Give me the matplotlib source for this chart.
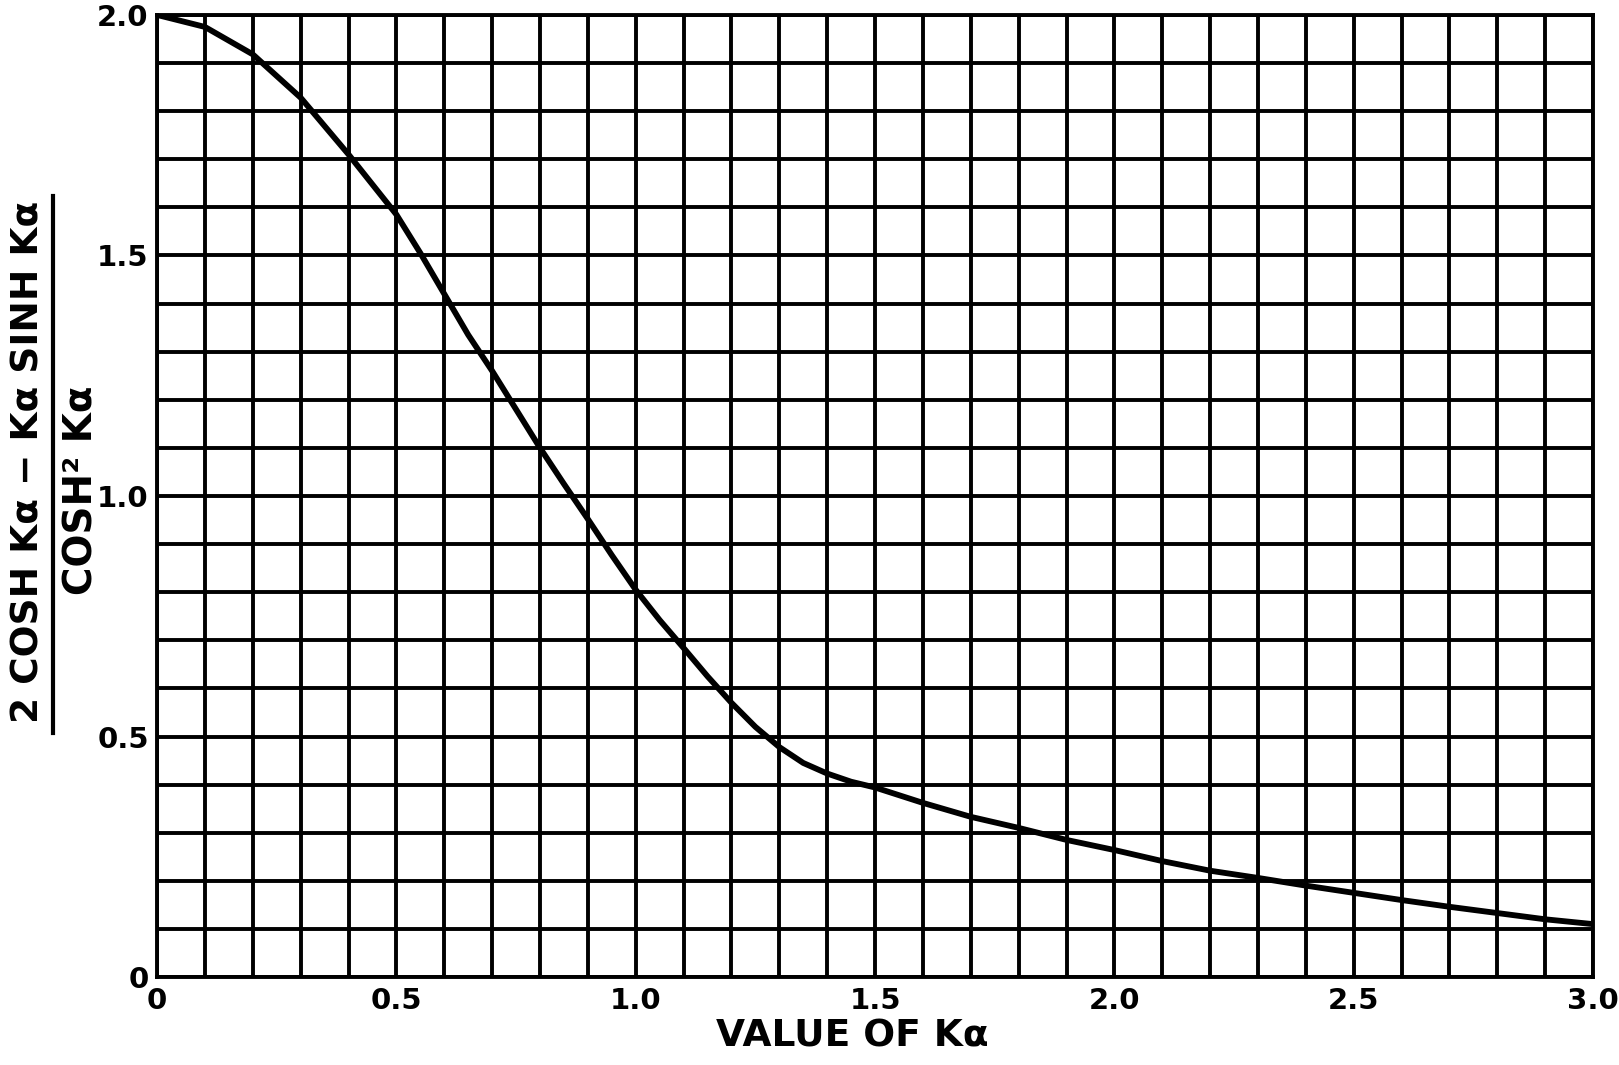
import numpy as np
import matplotlib
matplotlib.use('Agg')
import matplotlib.pyplot as plt
from matplotlib.lines import Line2D

# values
k_alpha = [0, 0.1, 0.2, 0.3, 0.4, 0.5, 0.55, 0.6, 0.65, 0.7, 0.75, 0.8, 0.85,
           0.9, 0.95, 1.0, 1.05, 1.1, 1.15, 1.2, 1.25, 1.3, 1.35, 1.4, 1.45,
           1.5, 1.6, 1.7, 1.8, 1.9, 2.0, 2.1, 2.2, 2.3, 2.4, 2.5, 2.6, 2.7,
           2.8, 2.9, 3.0]
ratio = [2.0, 1.975, 1.918, 1.828, 1.71, 1.585, 1.505, 1.42, 1.335, 1.26,
         1.18, 1.10, 1.025, 0.952, 0.877, 0.805, 0.742, 0.684, 0.625, 0.57,
         0.52, 0.478, 0.445, 0.423, 0.406, 0.394, 0.362, 0.333, 0.31, 0.285,
         0.264, 0.241, 0.221, 0.206, 0.19, 0.175, 0.16, 0.146, 0.133, 0.12,
         0.11]

x_ticks = [0, 0.5, 1.0, 1.5, 2.0, 2.5, 3.0]
x_labels = ['0', '0.5', '1.0', '1.5', '2.0', '2.5', '3.0']
y_ticks = [0, 0.5, 1.0, 1.5, 2.0]
y_labels = ['0', '0.5', '1.0', '1.5', '2.0']

plt.rcParams['font.family'] = 'DejaVu Sans'
plt.rcParams['font.weight'] = 'bold'

fig = plt.figure(figsize=(16.19, 10.65), dpi=100)
ax = fig.add_axes([0.097, 0.0826, 0.887, 0.9034])

ax.plot(k_alpha, ratio, color='black', lw=4.2, solid_capstyle='round',
        solid_joinstyle='round', zorder=3)

ax.set_xlim(0, 3.0)
ax.set_ylim(0, 2.0)
ax.set_xticks(x_ticks)
ax.set_xticklabels(x_labels, fontsize=21, fontweight='bold')
ax.set_yticks(y_ticks)
ax.set_yticklabels(y_labels, fontsize=21, fontweight='bold')
ax.set_xticks(np.arange(0, 3.001, 0.1), minor=True)
ax.set_yticks(np.arange(0, 2.001, 0.1), minor=True)
ax.grid(True, which='both', color='black', lw=2.8)
ax.tick_params(which='both', length=0)
ax.tick_params(axis='x', pad=7)
ax.tick_params(axis='y', pad=6)
for s in ax.spines.values():
    s.set_linewidth(2.8)

ax.set_xlabel('VALUE OF Kα', fontsize=27, fontweight='bold')
ax.xaxis.set_label_coords(0.484, -0.043)

# y label drawn as a fraction
fig.text(0.0175, 0.566, '2 COSH Kα − Kα SINH Kα', rotation=90,
         ha='center', va='center', fontsize=27, fontweight='bold')
fig.text(0.0505, 0.540, 'COSH² Kα', rotation=90,
         ha='center', va='center', fontsize=28, fontweight='bold')
fig.add_artist(Line2D([0.0327, 0.0327], [0.312, 0.816], color='black', lw=3,
                      transform=fig.transFigure))

plt.savefig('out.png', dpi=100, facecolor='white')
